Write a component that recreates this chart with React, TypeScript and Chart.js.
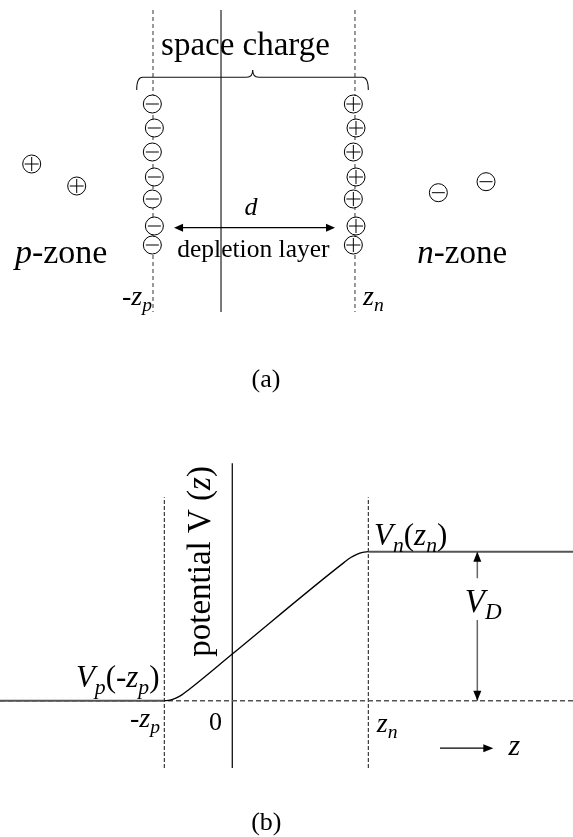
import React, { useEffect, useRef } from "react";
import { Chart, registerables } from "chart.js";
Chart.register(...registerables);

// ---------------- Panel (a): charge distribution ----------------
// x in units of z (−z_p = −1, 0 = junction, z_n ≈ 2); y = depth (top → bottom) inside panel
const aXRange = [-3.25, 5.176];
const aYRange = [0, 420];
const aEdgeX = [-1, 1.97]; // -z_p, z_n
const aJunctionX = 0;
const aLineSpan = [10, 312];
const negBoundX = [-1.01, -0.98, -1.01, -0.98, -1.01, -0.98, -1.01];
const posBoundX = [1.946, 1.985, 1.946, 1.985, 1.946, 1.985, 1.946];
const boundY = [104, 128, 152, 177, 199, 226, 245];
const freeHoleX = [-2.784, -2.122];
const freeHoleY = [164, 186];
const freeElecX = [3.196, 3.897];
const freeElecY = [192.7, 181.7];
const dArrowX = [-0.69, 1.676];
const dArrowY = 227.7;
const braceX = [-1.24, 0.466, 2.166]; // left end, tip, right end
const braceY = [90, 77.3, 70]; // ends, bar, tip

// ---------------- Panel (b): potential V(z) ----------------
const bXRange = [-3.416, 5.01];
const bYRange = [-0.915, 1.884];
const potZ = [-1, -0.917, -0.831, -0.742, -0.65, 0, 1.65, 1.742, 1.831, 1.917, 2];
const potV = [0, 0.004, 0.0175, 0.039, 0.07, 0.313, 0.93, 0.961, 0.9825, 0.9956, 1];
const pFlatZ = [-3.416, -1];
const nFlatZ = [2, 5.01];
const bEdgeZ = [-1, 2];
const bEdgeSpan = [-0.452, 1.365];
const bAxisSpan = [-0.452, 1.593];
const vdZ = 3.603;
const vdGap = [0.542, 0.821];
const zArrowZ = [3.054, 3.838];
const zArrowV = -0.319;

type Run = { t: string; i?: boolean; sub?: boolean };
type Label = { runs: Run[]; x: number; y: number; size: number; align: "left" | "right" | "center"; rot?: boolean };

const FONT = '"Liberation Serif", "Times New Roman", serif';

const aLabels: Label[] = [
  { runs: [{ t: "space charge" }], x: -0.882, y: 55, size: 33, align: "left" },
  { runs: [{ t: "p", i: true }, { t: "-zone" }], x: -3.03, y: 263, size: 34, align: "left" },
  { runs: [{ t: "n", i: true }, { t: "-zone" }], x: 2.887, y: 263, size: 33, align: "left" },
  { runs: [{ t: "d", i: true }], x: 0.441, y: 215, size: 26, align: "center" },
  { runs: [{ t: "depletion layer" }], x: -0.643, y: 256.7, size: 25.5, align: "left" },
  { runs: [{ t: "-" }, { t: "z", i: true }, { t: "p", i: true, sub: true }], x: -1.015, y: 305, size: 28, align: "right" },
  { runs: [{ t: "z", i: true }, { t: "n", i: true, sub: true }], x: 2.088, y: 305, size: 28, align: "left" },
  { runs: [{ t: "(a)" }], x: 0.662, y: 387, size: 26, align: "center" },
];

const bLabels: Label[] = [
  { runs: [{ t: "V", i: true }, { t: "p", i: true, sub: true }, { t: "(-" }, { t: "z", i: true }, { t: "p", i: true, sub: true }, { t: ")" }], x: -1.07, y: 0.09, size: 31, align: "right" },
  { runs: [{ t: "V", i: true }, { t: "n", i: true, sub: true }, { t: "(" }, { t: "z", i: true }, { t: "n", i: true, sub: true }, { t: ")" }], x: 2.084, y: 1.045, size: 31, align: "left" },
  { runs: [{ t: "V", i: true }, { t: "D", i: true, sub: true }], x: 3.42, y: 0.597, size: 33, align: "left" },
  { runs: [{ t: "-" }, { t: "z", i: true }, { t: "p", i: true, sub: true }], x: -1.063, y: -0.174, size: 28, align: "right" },
  { runs: [{ t: "0" }], x: -0.247, y: -0.197, size: 26, align: "center" },
  { runs: [{ t: "z", i: true }, { t: "n", i: true, sub: true }], x: 2.124, y: -0.208, size: 28, align: "left" },
  { runs: [{ t: "z", i: true }], x: 4.06, y: -0.364, size: 30, align: "left" },
  { runs: [{ t: "potential V (" }, { t: "z", i: true }, { t: ")" }], x: -0.328, y: 0.295, size: 33, align: "left", rot: true },
  { runs: [{ t: "(b)" }], x: 0.5, y: -0.871, size: 26, align: "center" },
];

function fontFor(r: Run, size: number) {
  const s = r.sub ? size * 0.7 : size;
  return `${r.i ? "italic " : ""}${s}px ${FONT}`;
}

function drawRich(ctx: CanvasRenderingContext2D, lab: Label, px: number, py: number) {
  ctx.save();
  ctx.fillStyle = "#000";
  ctx.textBaseline = "alphabetic";
  ctx.textAlign = "left";
  let total = 0;
  const widths = lab.runs.map((r) => {
    ctx.font = fontFor(r, lab.size);
    const w = ctx.measureText(r.t).width;
    total += w;
    return w;
  });
  ctx.translate(px, py);
  if (lab.rot) ctx.rotate(-Math.PI / 2);
  let x = lab.align === "left" ? 0 : lab.align === "right" ? -total : -total / 2;
  lab.runs.forEach((r, k) => {
    ctx.font = fontFor(r, lab.size);
    ctx.fillText(r.t, x, r.sub ? lab.size * 0.22 : 0);
    x += widths[k];
  });
  ctx.restore();
}

function arrowHead(ctx: CanvasRenderingContext2D, tx: number, ty: number, dx: number, dy: number, len: number, hw: number) {
  const n = Math.hypot(dx, dy);
  const ux = dx / n, uy = dy / n;
  ctx.beginPath();
  ctx.moveTo(tx, ty);
  ctx.lineTo(tx - ux * len - uy * hw, ty - uy * len + ux * hw);
  ctx.lineTo(tx - ux * len + uy * hw, ty - uy * len - ux * hw);
  ctx.closePath();
  ctx.fillStyle = "#000";
  ctx.fill();
}

function seg(x0: number, y0: number, x1: number, y1: number) {
  return [{ x: x0, y: y0 }, { x: x1, y: y1 }];
}

const lineDs = (data: any[], color: string, width: number, dash: number[] = [], order = 10) => ({
  type: "line" as const,
  data,
  borderColor: color,
  borderWidth: width,
  borderDash: dash,
  pointRadius: 0,
  fill: false,
  tension: 0,
  order,
  clip: false as any,
});

const pointDs = (xs: number[], ys: number[], style: string, r: number, order: number, bg = "#fff") => ({
  type: "scatter" as const,
  data: xs.map((x, k) => ({ x, y: ys[k] })),
  pointStyle: style,
  pointRadius: r,
  pointBackgroundColor: bg,
  pointBorderColor: "#000",
  pointBorderWidth: 1,
  order,
  clip: false as any,
});

function baseOptions(xr: number[], yr: number[], reverse: boolean) {
  return {
    responsive: false,
    animation: false as const,
    devicePixelRatio: 1,
    events: [],
    layout: { padding: 0, autoPadding: false },
    plugins: { legend: { display: false }, tooltip: { enabled: false }, title: { display: false } },
    scales: {
      x: { type: "linear" as const, min: xr[0], max: xr[1], display: false },
      y: { type: "linear" as const, min: yr[0], max: yr[1], reverse, display: false },
    },
  };
}

function buildA(): any {
  const y0 = aLineSpan[0], y1 = aLineSpan[1];
  const plugin = {
    id: "panelA",
    afterDatasetsDraw(chart: any) {
      const { ctx, scales } = chart;
      const X = (v: number) => scales.x.getPixelForValue(v);
      const Y = (v: number) => scales.y.getPixelForValue(v);
      // brace
      const xl = X(braceX[0]), xm = X(braceX[1]), xr = X(braceX[2]);
      const ye = Y(braceY[0]), yb = Y(braceY[1]), yt = Y(braceY[2]);
      const r = 6;
      ctx.save();
      ctx.strokeStyle = "#111";
      ctx.lineWidth = 1.1;
      ctx.beginPath();
      ctx.moveTo(xl, ye);
      ctx.quadraticCurveTo(xl, yb, xl + r, yb);
      ctx.lineTo(xm - r, yb);
      ctx.quadraticCurveTo(xm, yb, xm, yt);
      ctx.quadraticCurveTo(xm, yb, xm + r, yb);
      ctx.lineTo(xr - r, yb);
      ctx.quadraticCurveTo(xr, yb, xr, ye);
      ctx.stroke();
      // d arrow heads
      const ay = Y(dArrowY);
      arrowHead(ctx, X(dArrowX[0]), ay, -1, 0, 9, 4);
      arrowHead(ctx, X(dArrowX[1]), ay, 1, 0, 9, 4);
      ctx.restore();
      aLabels.forEach((l) => drawRich(ctx, l, X(l.x), Y(l.y)));
    },
  };
  return {
    type: "scatter",
    data: {
      datasets: [
        lineDs(seg(aEdgeX[0], y0, aEdgeX[0], y1), "#333", 1, [4, 3], 20),
        lineDs(seg(aEdgeX[1], y0, aEdgeX[1], y1), "#333", 1, [4, 3], 20),
        lineDs(seg(aJunctionX, y0, aJunctionX, y1), "#222", 1.2, [], 20),
        lineDs(seg(dArrowX[0] + 0.1, dArrowY, dArrowX[1] - 0.1, dArrowY), "#000", 1.3, [], 19),
        pointDs(negBoundX, boundY, "circle", 9, 5),
        pointDs(negBoundX, boundY, "line", 6.5, 1),
        pointDs(posBoundX, boundY, "circle", 9, 5),
        pointDs(posBoundX, boundY, "cross", 7, 1),
        pointDs(freeHoleX, freeHoleY, "circle", 9, 5),
        pointDs(freeHoleX, freeHoleY, "cross", 7, 1),
        pointDs(freeElecX, freeElecY, "circle", 9, 5),
        pointDs(freeElecX, freeElecY, "line", 6.5, 1),
      ],
    },
    options: baseOptions(aXRange, aYRange, true),
    plugins: [plugin],
  };
}

function buildB(): any {
  const plugin = {
    id: "panelB",
    afterDatasetsDraw(chart: any) {
      const { ctx, scales } = chart;
      const X = (v: number) => scales.x.getPixelForValue(v);
      const Y = (v: number) => scales.y.getPixelForValue(v);
      ctx.save();
      arrowHead(ctx, X(vdZ), Y(1), 0, -1, 10, 4);
      arrowHead(ctx, X(vdZ), Y(0), 0, 1, 10, 4);
      arrowHead(ctx, X(zArrowZ[1]), Y(zArrowV), 1, 0, 10, 4);
      ctx.restore();
      bLabels.forEach((l) => drawRich(ctx, l, X(l.x), Y(l.y)));
    },
  };
  return {
    type: "scatter",
    data: {
      datasets: [
        lineDs(seg(bXRange[0], 0, bXRange[1], 0), "#555", 1.6, [5, 3], 20),
        lineDs(seg(bEdgeZ[0], bEdgeSpan[0], bEdgeZ[0], bEdgeSpan[1]), "#111", 1, [4, 2], 20),
        lineDs(seg(bEdgeZ[1], bEdgeSpan[0], bEdgeZ[1], bEdgeSpan[1]), "#111", 1, [4, 2], 20),
        lineDs(seg(0, bAxisSpan[0], 0, bAxisSpan[1]), "#111", 1.3, [], 20),
        lineDs(seg(pFlatZ[0], 0, pFlatZ[1], 0), "#555", 2, [], 15),
        lineDs(seg(nFlatZ[0], 1, nFlatZ[1], 1), "#555", 2, [], 15),
        {
          ...lineDs(potZ.map((z, k) => ({ x: z, y: potV[k] })), "#000", 1.3, [], 10),
          cubicInterpolationMode: "monotone",
        },
        lineDs(seg(vdZ, 1, vdZ, vdGap[1]), "#666", 1.5, [], 12),
        lineDs(seg(vdZ, vdGap[0], vdZ, 0), "#666", 1.5, [], 12),
        lineDs(seg(zArrowZ[0], zArrowV, zArrowZ[1] - 0.1, zArrowV), "#000", 1.3, [], 12),
      ],
    },
    options: baseOptions(bXRange, bYRange, false),
    plugins: [plugin],
  };
}

function Panel({ width, height, build }: { width: number; height: number; build: () => any }) {
  const ref = useRef<HTMLCanvasElement>(null);
  useEffect(() => {
    const chart = new Chart(ref.current as HTMLCanvasElement, build());
    return () => chart.destroy();
  }, [build]);
  return <canvas ref={ref} width={width} height={height} style={{ display: "block", width, height }} />;
}

export default function App() {
  return (
    <div style={{ position: "absolute", left: 0, top: 0, width: 573, height: 837, background: "#fff" }}>
      <Panel width={573} height={420} build={buildA} />
      <Panel width={573} height={417} build={buildB} />
    </div>
  );
}
